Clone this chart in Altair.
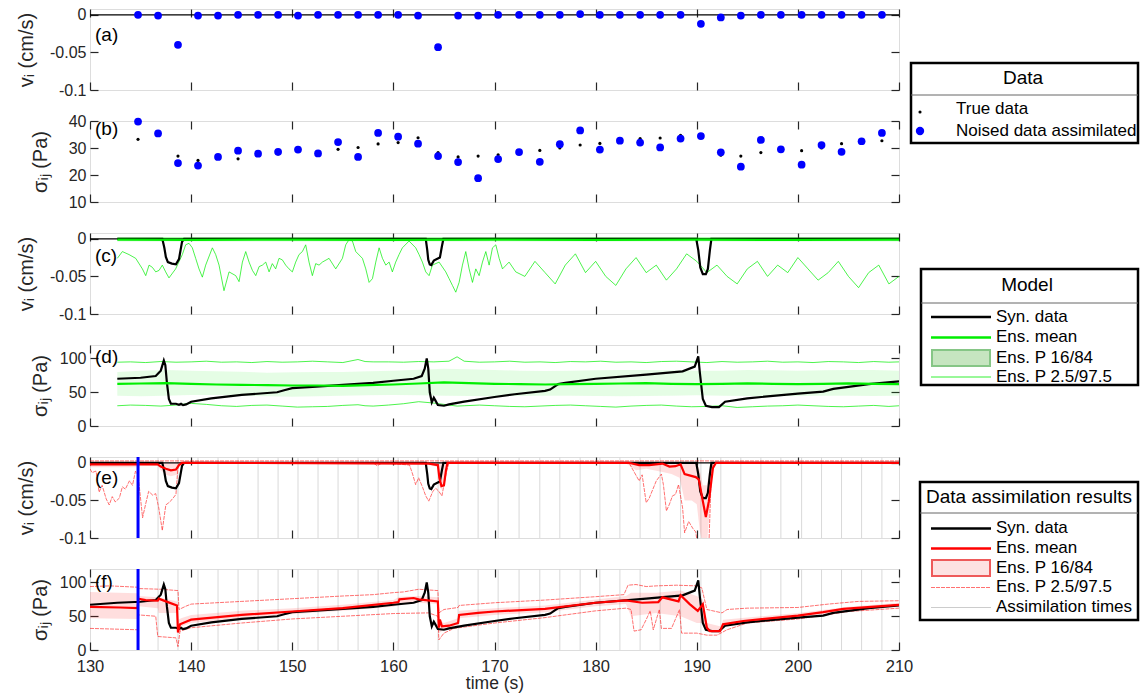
import altair as alt
import pandas as pd

FONT = "Liberation Sans"
INK = "#262626"

# ---------------- data ----------------
x_ticks = [130, 140, 150, 160, 170, 180, 190, 200, 210]
assim_start = 134.75

obs_t = [134.75, 136.73, 138.70, 140.68, 142.66, 144.64, 146.62, 148.60, 150.57, 152.55,
         154.53, 156.51, 158.49, 160.47, 162.44, 164.42, 166.40, 168.38, 170.36, 172.43,
         174.48, 176.46, 178.47, 180.42, 182.40, 184.40, 186.38, 188.40, 190.41, 192.38,
         194.36, 196.34, 198.32, 200.37, 202.34, 204.32, 206.30, 208.31]
obs_v = [0, -0.001, -0.040, -0.001, -0.001, 0, 0, 0, -0.001, 0,
         0, 0, 0, 0, -0.001, -0.043, -0.001, -0.001, 0, 0,
         0, 0, 0.001, 0, 0, 0, 0, 0, -0.012, -0.0035,
         -0.001, 0, 0, 0, 0, 0, 0, 0]
sig_true = [33.2, 35.5, 27.0, 25.4, 26.5, 26.0, 27.5, 27.8, 29.0, 28.0,
            29.5, 30.2, 31.5, 32.0, 33.8, 28.3, 26.7, 27.0, 27.5, 28.5,
            29.1, 30.0, 31.1, 31.7, 32.5, 33.5, 33.7, 34.7, 34.5, 27.3,
            27.0, 28.3, 29.5, 29.0, 30.0, 31.6, 32.5, 32.7]
sig_obs = [39.8, 35.4, 24.4, 23.5, 26.7, 29.0, 27.9, 28.6, 29.4, 28.0,
           32.2, 26.7, 35.6, 34.2, 31.6, 27.0, 24.8, 18.8, 25.9, 28.5,
           24.9, 31.4, 36.5, 29.4, 32.7, 32.0, 30.2, 33.5, 34.4, 28.4,
           23.1, 33.0, 29.5, 23.8, 31.1, 28.6, 32.5, 35.6]

# synthetic ("true") slip rate and stress
syn_v_t = [130, 137.15, 137.35, 137.5, 137.7, 138.1, 138.5, 138.8, 139.1, 139.3,
           163.2, 163.35, 163.45, 163.6, 163.75, 164.0, 164.3, 164.6, 164.8, 164.95,
           189.95, 190.15, 190.35, 190.6, 190.9, 191.1, 191.3, 191.45, 210]
syn_v = [0, 0, -0.012, -0.024, -0.031, -0.033, -0.034, -0.027, -0.004, 0,
         0, -0.015, -0.028, -0.034, -0.035, -0.029, -0.027, -0.025, -0.01, 0,
         0, -0.015, -0.038, -0.047, -0.047, -0.04, -0.015, 0, 0]
syn_s_t = [130, 132.7, 135, 136.5, 137.0, 137.3, 137.45, 137.6, 137.8, 138.0,
           138.5, 138.8, 139.0, 139.2, 139.5, 140, 142, 145, 148.5, 149.2,
           150, 152, 155, 158, 160, 162, 162.8, 163.1, 163.3, 163.45,
           163.6, 163.8, 164.0, 164.15, 164.4, 165, 165.5, 167, 170, 172,
           175, 175.5, 176.3, 177, 180, 185, 188.6, 189.8, 190.15, 190.3,
           190.6, 190.9, 191.5, 192.2, 192.8, 195, 200, 202.5, 203.5, 205,
           207, 210]
syn_s = [67, 70, 71.5, 74, 82, 97, 90, 65, 40, 33,
         33, 31.5, 33, 31, 32, 36, 41, 46, 50, 53,
         56, 58, 61, 64, 67, 70, 74, 85, 100, 85,
         50, 35, 42, 38, 31, 30, 32, 36, 43, 47,
         52, 54, 62, 64, 70, 76, 81, 88, 103, 80,
         40, 30, 28, 28, 36, 41, 48, 51, 55, 58,
         62, 66]

model_start = 132.7

# (c) model ensemble, slip rate
gc_mean_t = [132.7, 140, 150, 160, 170, 180, 190, 200, 210]
gc_mean = [-0.001, -0.0015, -0.001, -0.0015, -0.001, -0.0015, -0.001, -0.0015, -0.001]
gc_band_t = [132.7, 210]
gc_band_lo = [-0.004, -0.004]
gc_band_hi = [0.0005, 0.0005]
gc_hi_t = [132.7, 210]
gc_hi = [0.001, 0.001]
gc_lo_t = [132.70, 133.20, 133.86, 134.52, 135.18, 135.51, 135.84, 136.17, 136.50, 136.83,
           137.15, 137.48, 137.81, 138.47, 139.13, 139.46, 139.79, 140.12, 140.45, 140.78,
           141.11, 141.44, 142.10, 142.43, 142.76, 143.25, 143.75, 144.41, 144.74, 145.07,
           145.40, 145.73, 146.06, 146.39, 146.72, 147.05, 147.38, 147.71, 148.03, 148.36,
           148.69, 149.02, 149.35, 149.68, 150.01, 150.34, 150.67, 151.00, 151.33, 151.66,
           151.99, 152.32, 152.65, 152.98, 153.64, 154.30, 154.96, 155.29, 155.62, 155.95,
           156.28, 156.94, 157.27, 157.60, 157.93, 158.26, 158.59, 158.92, 159.25, 159.58,
           159.90, 160.23, 160.56, 160.89, 161.55, 162.21, 162.54, 162.87, 163.20, 163.53,
           163.86, 164.52, 165.18, 165.51, 165.84, 166.17, 166.50, 166.83, 167.16, 167.49,
           167.82, 168.15, 168.48, 168.81, 169.14, 169.47, 169.80, 170.13, 170.46, 170.79,
           171.44, 172.10,
           173, 174, 175, 176, 177, 178, 179, 180, 181, 182,
           183, 184, 185, 186, 187, 188, 189, 190, 191, 192,
           193, 194, 195, 196, 197, 198, 199, 200, 201, 202,
           203, 204, 205, 206, 207, 208, 209, 210]
gc_lo = [-0.026, -0.017, -0.021, -0.026, -0.040, -0.049, -0.035, -0.038, -0.044, -0.042,
         -0.035, -0.044, -0.052, -0.040, -0.021, -0.008, -0.006, -0.012, -0.026, -0.040,
         -0.051, -0.035, -0.012, -0.021, -0.035, -0.069, -0.044, -0.049, -0.057, -0.031,
         -0.017, -0.031, -0.042, -0.049, -0.037, -0.035, -0.031, -0.044, -0.033, -0.040,
         -0.026, -0.028, -0.035, -0.040, -0.044, -0.031, -0.021, -0.017, -0.008, -0.031,
         -0.049, -0.033, -0.035, -0.031, -0.026, -0.040, -0.026, -0.008, -0.001, -0.003,
         -0.017, -0.026, -0.040, -0.058, -0.053, -0.031, -0.012, -0.026, -0.035, -0.031,
         -0.044, -0.031, -0.021, -0.012, -0.003, -0.012, -0.021, -0.031, -0.044, -0.049,
         -0.035, -0.031, -0.044, -0.053, -0.062, -0.071, -0.058, -0.035, -0.017, -0.040,
         -0.058, -0.040, -0.049, -0.031, -0.017, -0.035, -0.012, -0.008, -0.026, -0.040,
         -0.031, -0.044,
         -0.050, -0.030, -0.045, -0.060, -0.035, -0.020, -0.045, -0.030, -0.050, -0.062,
         -0.040, -0.025, -0.045, -0.035, -0.055, -0.040, -0.020, -0.030, -0.045, -0.035,
         -0.050, -0.060, -0.040, -0.030, -0.050, -0.035, -0.045, -0.025, -0.040, -0.055,
         -0.045, -0.030, -0.050, -0.065, -0.045, -0.035, -0.060, -0.050]

# (d) model ensemble, stress
gd_mean_t = [132.7, 135, 137.5, 140, 142.5, 145, 147.5, 150, 152.5, 155,
             157.5, 160, 162.5, 165, 167.5, 170, 172.5, 175, 177.5, 180,
             182.5, 185, 187.5, 190, 192.5, 195, 197.5, 200, 202.5, 205,
             207.5, 210]
gd_mean = [62.5, 63, 63.5, 62.5, 61.5, 61, 60.5, 60, 60, 59.5,
           60.5, 61.5, 63, 64.5, 63.5, 62.5, 62, 61.5, 62, 62.5,
           63, 63.5, 62.5, 62, 62.5, 63, 62.5, 62, 62.5, 63,
           62.5, 62]
gd_band_hi = [80, 82, 83, 82, 81, 80.5, 79, 79.5, 80, 80,
              81, 82, 83.5, 85, 84, 83, 82, 81.5, 82, 82.5,
              83, 83, 82.5, 82, 82, 83, 82.5, 82, 82.5, 83,
              83, 82]
gd_band_lo = [45, 44, 45, 46, 46, 45, 44, 43.5, 44, 45,
              45.5, 46, 45.5, 45, 44.5, 44, 44.5, 45, 45, 44.5,
              44, 44.5, 45, 45.5, 45, 44.5, 44, 44.5, 45, 45,
              44.5, 45]
gd_p_t = [132.7, 134, 135.5, 137, 138.5, 140, 141.5, 143, 144.5, 146,
          147.5, 149, 150.5, 152, 153.5, 155, 156.5, 157.2, 158, 159.5,
          161, 162.5, 164, 165.5, 166.3, 167, 168.5, 170, 171.5, 173,
          174.5, 176, 177.5, 179, 180.5, 182, 183.5, 185, 186.5, 188,
          189.5, 191, 192.5, 194, 195.5, 197, 198.5, 200, 201.5, 203,
          204.5, 206, 207.5, 209, 210]
gd_p975 = [94.5, 95, 94, 95.5, 94.5, 95, 96, 94.5, 95, 94,
           95.5, 94.5, 95, 96, 95, 94, 98.5, 95.5, 95, 95,
           94.5, 95.5, 95, 96, 102.5, 96, 94.5, 95, 96, 94.5,
           95, 94, 95.5, 95, 96, 94.5, 95, 94, 95.5, 96,
           95, 94, 95.5, 94.5, 95, 96, 94.5, 95, 94, 95.5,
           95, 94, 95.5, 94.5, 95]
gd_p025 = [30, 31, 30.5, 29.5, 31, 33.5, 32, 30, 29, 30.5,
           31, 29.5, 28, 28.5, 29, 30.5, 31.5, 30, 29.5, 31,
           33, 36, 34, 31, 29.5, 30, 31, 30, 29, 28.5,
           29.5, 30.5, 31, 30, 29, 28, 29.5, 30.5, 31, 29.5,
           28.5, 29, 30, 27.5, 28.5, 29.5, 30, 31, 30, 29,
           28.5, 29.5, 30.5, 29, 30]

# (e) assimilation results, slip rate
re_t = [130, 134.7, 136.7, 137.0, 137.5, 138.0, 138.5, 138.8, 139.1,
        163.5, 164.4, 164.55, 164.75, 165.0, 165.2, 165.35,
        183.3, 184.3, 185.3, 186.6, 187.3, 187.9, 188.4, 188.8, 189.9, 190.2,
        190.6, 190.9, 191.2, 191.6, 191.9, 210]
re_mean = [-0.002, -0.002, -0.002, -0.005, -0.008, -0.01, -0.009, -0.003, 0,
           -0.001, -0.003, -0.02, -0.031, -0.03, -0.01, 0,
           0, -0.003, -0.003, -0.001, -0.005, -0.0045, -0.002, -0.015, -0.019, -0.022,
           -0.051, -0.072, -0.051, -0.007, 0, 0]
reb_t = [130, 134.7, 134.8, 136.7, 137.0, 137.5, 138.0, 138.6, 138.8, 139.2,
         160, 163.5, 164.4, 164.5, 164.8, 165.2, 165.4, 183, 184, 185,
         186.5, 187.5, 188.3, 188.8, 189.5, 190.0, 190.3, 190.6, 191.0, 191.3,
         191.6, 192, 210]
reb_lo = [-0.006, -0.006, -0.003, -0.004, -0.01, -0.016, -0.018, -0.016, -0.004, 0,
          0, -0.002, -0.006, -0.03, -0.036, -0.02, 0, -0.001, -0.01, -0.008,
          -0.012, -0.015, -0.02, -0.05, -0.05, -0.055, -0.09, -0.11, -0.11, -0.06,
          -0.01, 0, 0]
reb_hi = [0.0005, 0.0005, 0.0005, 0.0005, 0.0005, 0.0005, 0.0005, 0.0005, 0.0005, 0.0005,
          0.0005, 0.0005, 0.0005, 0.0005, 0.0005, 0.0005, 0.0005, 0.0005, 0.0005, 0.0005,
          0.0005, 0.0005, 0.0005, 0.0005, 0.0005, 0.0005, -0.01, -0.03, -0.03, -0.005,
          0.0005, 0.0005, 0.0005]
re_hi_t = [130, 210]
re_hi = [0.0025, 0.0025]
re_lo_t = [130, 130.2, 130.6, 130.9, 131.2, 131.6, 131.9, 132.2, 132.5, 132.9,
           133.2, 133.5, 133.9, 134.2, 134.5, 134.75, 135.2, 135.5, 135.8, 136.2,
           136.5, 136.8, 137.15, 137.3, 137.5, 137.8, 138.1, 138.5, 138.7, 139.2,
           158.0, 158.4, 158.9, 161.6, 161.9, 162.2, 162.5, 162.9, 163.2, 163.5,
           163.9, 164.2, 164.5, 164.8, 165.2, 165.5, 183.3, 184.3, 184.6, 185.0,
           185.3, 186.0, 186.5, 186.7, 187.0, 187.3, 187.6, 187.9, 188.2, 188.6,
           188.8, 189.2, 189.6, 189.9, 190.1, 191.2, 191.4, 191.6, 192.0, 210]
re_lo = [-0.008, -0.013, -0.011, -0.039, -0.030, -0.048, -0.056, -0.045, -0.052, -0.047,
         -0.032, -0.035, -0.024, -0.030, -0.011, -0.016, -0.073, -0.055, -0.038, -0.043,
         -0.041, -0.060, -0.090, -0.075, -0.056, -0.053, -0.049, -0.042, -0.005, 0,
         0, -0.004, 0, -0.003, -0.015, -0.029, -0.020, -0.033, -0.044, -0.051,
         -0.038, -0.034, -0.038, -0.044, -0.015, 0, 0, -0.024, -0.016, -0.053,
         -0.047, -0.024, -0.015, -0.029, -0.064, -0.055, -0.044, -0.042, -0.029, -0.060,
         -0.093, -0.078, -0.087, -0.092, -0.11, -0.11, -0.029, -0.002, 0, 0]

# (f) assimilation results, stress
rf_t = [130, 133, 134.7, 134.8, 135.5, 136.7, 136.8, 137.5, 138.6, 138.7,
        138.9, 139.5, 140, 145, 150, 155, 160, 160.5, 160.6, 162,
        162.5, 164.4, 164.5, 164.6, 164.8, 165.5, 166.4, 166.5, 168.4, 170,
        175, 180, 183, 184.6, 186.2, 186.6, 188.2, 188.4, 189.3, 190.1,
        190.6, 191, 191.3, 192.3, 192.6, 194.6, 200, 202.5, 204.5, 210]
rf_mean = [64, 63, 62, 76, 74, 73, 76, 72, 66, 26,
           38, 42, 45, 52, 57, 62, 70, 71, 75, 77,
           75, 72, 33, 45, 35, 36, 40, 52, 55, 57,
           61, 70, 73.5, 70, 71, 78, 72, 81, 68, 58,
           68, 33, 28, 28, 38, 43, 51, 56, 61, 67]
rfb_t = [130, 134.7, 134.8, 136.7, 136.8, 138.6, 138.75, 139, 140, 145,
         150, 155, 160, 160.6, 162.5, 164.4, 164.5, 165, 166.4, 166.5,
         170, 175, 180, 183, 183.5, 186, 188.4, 190, 190.6, 191,
         192.4, 192.6, 195, 200, 205, 210]
rfb_lo = [47, 46, 65, 62, 55, 55, 28, 35, 40, 47,
          53, 58, 64, 68, 70, 68, 25, 30, 35, 47,
          52, 56, 65, 68, 50, 55, 50, 40, 40, 28,
          27, 35, 40, 48, 58, 64]
rfb_hi = [86, 84, 80, 78, 78, 72, 45, 47, 52, 58,
          62, 67, 74, 79, 80, 78, 45, 40, 47, 58,
          62, 66, 75, 80, 85, 85, 88, 80, 75, 40,
          35, 45, 48, 55, 64, 70]
rfu_t = [130, 132, 134.7, 134.8, 137, 138.7, 138.8, 139.5, 140, 145,
         150, 155, 158, 160, 161, 162.5, 164.4, 164.5, 165, 166.4,
         166.5, 170, 175, 180, 182.8, 183.2, 184, 185, 186, 188,
         190, 190.5, 191, 192.5, 193, 195, 200, 203, 206, 210]
rfu = [94, 95, 93, 91, 90, 88, 60, 65, 68, 72,
       76, 80, 82, 85, 86, 90, 88, 55, 60, 63,
       66, 70, 74, 79, 82, 96, 97, 94, 95, 96,
       95, 92, 60, 55, 60, 62, 63, 68, 72, 73]
rfl_t = [130, 134.7, 134.8, 136.5, 136.7, 138.5, 138.7, 138.9, 140, 145,
         150, 155, 160, 163.5, 164.4, 164.5, 165, 166, 170, 175,
         180, 183, 183.5, 183.8, 184.5, 185, 185.4, 185.7, 186.3, 186.5,
         187.5, 188.3, 188.5, 190, 191, 192, 193, 195, 200, 205,
         210]
rfl = [32, 30, 52, 50, 20, 18, 5, 28, 33, 40,
       46, 50, 54, 55, 50, 15, 25, 32, 40, 48,
       58, 62, 60, 28, 30, 45, 58, 30, 60, 32,
       32, 60, 25, 25, 22, 22, 30, 40, 46, 57,
       62]

# ---------------- helpers ----------------
W, H = 809, 81
XS = alt.Scale(domain=[130, 210], nice=False, zero=False)
ONE = pd.DataFrame({"a": [0]})
V_DOM = [-0.1, 0.0077]
S_DOM = [0, 120]
B_DOM = [10, 40]
GREEN = "#00ee00"
RED = "#ff0000"
BLUE = "#0000ff"


def ysc(dom):
    return alt.Scale(domain=dom, nice=False, zero=False)


def xenc():
    return alt.X("t:Q", scale=XS, axis=None)


def line(t, v, dom, color, width, dash=None, opacity=1.0):
    df = pd.DataFrame({"t": t, "v": v})
    kw = dict(color=color, strokeWidth=width, clip=True, opacity=opacity)
    if dash:
        kw["strokeDash"] = dash
    return alt.Chart(df).mark_line(**kw).encode(
        x=xenc(), y=alt.Y("v:Q", scale=ysc(dom), axis=None))


def band(t, lo, hi, dom, color, opacity):
    df = pd.DataFrame({"t": t, "lo": lo, "hi": hi})
    return alt.Chart(df).mark_area(color=color, opacity=opacity, clip=True).encode(
        x=xenc(), y=alt.Y("lo:Q", scale=ysc(dom), axis=None), y2="hi:Q")


def zero_line(dom):
    return alt.Chart(ONE).mark_rule(color="black", strokeWidth=1.2).encode(
        y=alt.YDatum(0, scale=ysc(dom), axis=None))


def vrules(ts, color, width):
    return alt.Chart(pd.DataFrame({"t": ts})).mark_rule(color=color, strokeWidth=width).encode(x=xenc())


def axes(dom, yvals, ytitle, tpad, vfmt, bottom_labels):
    df = pd.DataFrame({"t": [130.0], "v": [dom[0]]})
    xax = dict(orient="bottom", values=x_ticks, tickSize=8, offset=-8, domain=False, grid=False,
               tickColor=INK, tickWidth=1.2, labels=bottom_labels)
    if bottom_labels:
        xax.update(labelFontSize=16.5, labelFont=FONT, labelColor=INK, labelPadding=8,
                   labelFlush=False, labelOverlap=False,
                   titleFontSize=17.5, titleFont=FONT, titleColor=INK, titleFontWeight="normal",
                   titlePadding=0)
    yax = dict(orient="left", values=yvals, tickSize=8, offset=-8, domain=False, grid=False,
               tickColor=INK, tickWidth=1.2, labelFontSize=16, labelFont=FONT, labelColor=INK,
               labelPadding=4, labelFlush=False, labelOverlap=False,
               titleFontSize=20, titleFont=FONT, titleColor=INK,
               titleFontWeight="normal", titlePadding=tpad)
    if vfmt:
        yax["labelExpr"] = "datum.value < 0 ? '-' + format(-datum.value, '.2~f') : '0'"
    base = alt.Chart(df).mark_point(opacity=0).encode(
        x=alt.X("t:Q", scale=XS, axis=alt.Axis(**xax), title="time (s)" if bottom_labels else None),
        y=alt.Y("v:Q", scale=ysc(dom), axis=alt.Axis(**yax), title=ytitle))
    other = alt.Chart(df).mark_point(opacity=0).encode(
        x=alt.X("t:Q", scale=XS, title=None,
                axis=alt.Axis(orient="top", values=x_ticks, tickSize=8, offset=-8, domain=False,
                              grid=False, labels=False, tickColor=INK, tickWidth=1.2, minExtent=0)),
        y=alt.Y("v:Q", scale=ysc(dom), title=None,
                axis=alt.Axis(orient="right", values=yvals, tickSize=8, offset=-8, domain=False,
                              grid=False, labels=False, tickColor=INK, tickWidth=1.2, minExtent=0)))
    return [base, other]


def panel(layers, dom, yvals, ytitle, tpad, vfmt, label, label_y, bottom=False, extra=()):
    lab = alt.Chart(ONE).mark_text(text=label, align="left", baseline="middle", fontSize=19,
                                   font=FONT, color="black").encode(
        x=alt.value(5), y=alt.value(label_y))
    return alt.layer(*layers, lab, *extra, *axes(dom, yvals, ytitle, tpad, vfmt, bottom)).resolve_axis(
        x="independent", y="independent").properties(width=W, height=H)


# ---------------- legend boxes (drawn to the right of panel (a)) ----------------
LX = W + 8   # legend column starts just right of the plot frame


def ltext(x, y, s, size=17, align="left"):
    return alt.Chart(ONE).mark_text(text=s, align=align, baseline="middle", fontSize=size,
                                    font=FONT, color="black").encode(
        x=alt.value(LX + x), y=alt.value(y))


def lbox(x1, y1, x2, y2, fill="white", stroke="black", sw=2.5, fo=1.0):
    return alt.Chart(ONE).mark_rect(fill=fill, stroke=stroke, strokeWidth=sw, fillOpacity=fo).encode(
        x=alt.value(LX + x1), x2=alt.value(LX + x2), y=alt.value(y1), y2=alt.value(y2))


def lline(x1, x2, y, color, width, dash=None, opacity=1.0):
    kw = dict(color=color, strokeWidth=width, opacity=opacity)
    if dash:
        kw["strokeDash"] = dash
    return alt.Chart(ONE).mark_rule(**kw).encode(
        x=alt.value(LX + x1), x2=alt.value(LX + x2), y=alt.value(y))


def ldot(x, y, color, size):
    return alt.Chart(ONE).mark_circle(color=color, size=size, opacity=1).encode(
        x=alt.value(LX + x), y=alt.value(y))


LR = 231
leg = [
    lbox(4, 54, LR, 134),
    lline(4, LR, 86, "#666666", 1),
    ltext(116, 69, "Data", 19, "center"),
    ldot(13, 103, "black", 10),
    ltext(49, 99.5, "True data"),
    ldot(13, 122, BLUE, 70),
    ltext(49, 121.5, "Noised data assimilated"),

    lbox(14, 260, LR, 376),
    lline(14, LR, 294, "#666666", 1),
    ltext(120, 276, "Model", 19, "center"),
    lline(24, 84, 308, "black", 2.5),
    ltext(89, 307.5, "Syn. data"),
    lline(24, 84, 328.5, GREEN, 2.5),
    ltext(89, 328.3, "Ens. mean"),
    lbox(25, 341, 83, 357, fill="#c6e5c0", stroke="#86c686", sw=2),
    ltext(89, 349.3, "Ens. P 16/84"),
    lline(24, 84, 368, GREEN, 0.8),
    ltext(89, 367.7, "Ens. P 2.5/97.5"),

    lbox(13, 473, LR, 611),
    lline(13, LR, 504, "#666666", 1),
    ltext(122, 487.5, "Data assimilation results", 19, "center"),
    lline(24, 84, 519.5, "black", 2.5),
    ltext(89, 519, "Syn. data"),
    lline(24, 84, 539.5, RED, 2.5),
    ltext(89, 539, "Ens. mean"),
    lbox(25, 551, 83, 567, fill="#fde2e2", stroke="#ee5a5a", sw=2),
    ltext(89, 559, "Ens. P 16/84"),
    lline(24, 84, 578.5, RED, 0.8, dash=[4, 1], opacity=0.7),
    ltext(89, 578, "Ens. P 2.5/97.5"),
    lline(24, 84, 598.5, "#cccccc", 1),
    ltext(89, 598, "Assimilation times"),
]

V_T = [-0.1, -0.05, 0]
S_T = [0, 50, 100]
B_T = [10, 20, 30, 40]
V_TITLE = "vᵢ (cm/s)"
S_TITLE = "σᵢⱼ (Pa)"

# ---------------- panels ----------------
obs_df = pd.DataFrame({"t": obs_t, "v": obs_v, "st": sig_true, "so": sig_obs})

pa = panel([
    zero_line(V_DOM),
    alt.Chart(obs_df).mark_circle(size=60, color=BLUE, opacity=1).encode(
        x=xenc(), y=alt.Y("v:Q", scale=ysc(V_DOM), axis=None)),
], V_DOM, V_T, V_TITLE, 13, True, "(a)", 26, extra=leg)

pb = panel([
    alt.Chart(obs_df).mark_circle(size=10, color="black", opacity=1).encode(
        x=xenc(), y=alt.Y("st:Q", scale=ysc(B_DOM), axis=None)),
    alt.Chart(obs_df).mark_circle(size=60, color=BLUE, opacity=1).encode(
        x=xenc(), y=alt.Y("so:Q", scale=ysc(B_DOM), axis=None)),
], B_DOM, B_T, S_TITLE, 18, False, "(b)", 8)

syn_v_model_t = [model_start] + syn_v_t[1:]
pc = panel([
    band(gc_band_t, gc_band_lo, gc_band_hi, V_DOM, GREEN, 0.1),
    line(gc_lo_t, gc_lo, V_DOM, GREEN, 0.7),
    line(gc_hi_t, gc_hi, V_DOM, GREEN, 0.7),
    zero_line(V_DOM),
    line(syn_v_model_t, syn_v, V_DOM, "black", 2.2),
    line(gc_mean_t, gc_mean, V_DOM, GREEN, 2.2),
], V_DOM, V_T, V_TITLE, 13, True, "(c)", 23)

pdd = panel([
    band(gd_mean_t, gd_band_lo, gd_band_hi, S_DOM, GREEN, 0.1),
    line(gd_p_t, gd_p975, S_DOM, GREEN, 0.7),
    line(gd_p_t, gd_p025, S_DOM, GREEN, 0.7),
    line(syn_s_t[1:], syn_s[1:], S_DOM, "black", 2.2),
    line(gd_mean_t, gd_mean, S_DOM, GREEN, 2.2),
], S_DOM, S_T, S_TITLE, 9, False, "(d)", 12)

pe = panel([
    vrules(obs_t, "#d9d9d9", 1),
    band(reb_t, reb_lo, reb_hi, V_DOM, RED, 0.13),
    line(re_lo_t, re_lo, V_DOM, RED, 0.8, dash=[4, 1], opacity=0.7),
    line(re_hi_t, re_hi, V_DOM, RED, 0.8, dash=[4, 1], opacity=0.7),
    zero_line(V_DOM),
    line(syn_v_t, syn_v, V_DOM, "black", 2.2),
    line(re_t, re_mean, V_DOM, RED, 2.2),
    vrules([assim_start], BLUE, 3),
], V_DOM, V_T, V_TITLE, 13, True, "(e)", 21)

pf = panel([
    vrules(obs_t, "#d9d9d9", 1),
    band(rfb_t, rfb_lo, rfb_hi, S_DOM, RED, 0.13),
    line(rfu_t, rfu, S_DOM, RED, 0.8, dash=[4, 1], opacity=0.7),
    line(rfl_t, rfl, S_DOM, RED, 0.8, dash=[4, 1], opacity=0.7),
    line(syn_s_t, syn_s, S_DOM, "black", 2.2),
    line(rf_t, rf_mean, S_DOM, RED, 2.2),
    vrules([assim_start], BLUE, 3),
], S_DOM, S_T, S_TITLE, 9, False, "(f)", 13, bottom=True)

chart = alt.vconcat(pa, pb, pc, pdd, pe, pf, spacing=31, bounds="flush").properties(
    padding={"left": 16, "top": 6, "right": 0, "bottom": 0},
    background="white",
).configure_view(stroke=INK, strokeWidth=1.5).configure(font=FONT)

chart.save("out.html", embed_options={"renderer": "svg", "actions": False})
